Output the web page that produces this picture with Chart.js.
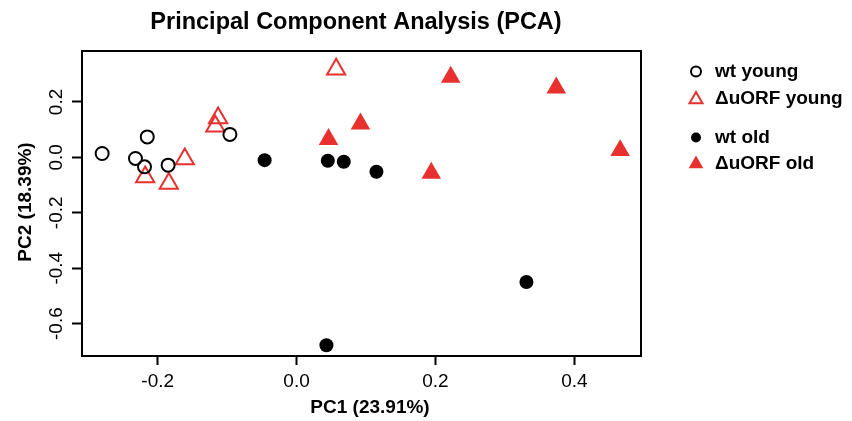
<!DOCTYPE html>
<html lang="en">
<head>
    <meta charset="UTF-8">
    <title>Principal Component Analysis (PCA)</title>
    <script src="https://cdn.jsdelivr.net/npm/chart.js"></script>
    <style>
        body {
            margin: 0;
            background-color: #ffffff;
        }
        #wrap {
            width: 852px;
            height: 421px;
        }
    </style>
</head>
<body>
    <div id="wrap">
        <canvas id="pcaChart" width="852" height="421"></canvas>
    </div>

    <script>
        // values
        const wtYoungX = [-0.280, -0.232, -0.215, -0.219, -0.185, -0.096];
        const wtYoungY = [0.014, -0.004, 0.074, -0.034, -0.028, 0.083];

        const uorfYoungX = [0.057, -0.113, -0.117, -0.161, -0.218, -0.184];
        const uorfYoungY = [0.318, 0.142, 0.112, -0.006, -0.071, -0.094];

        const wtOldX = [-0.046, 0.045, 0.068, 0.115, 0.331, 0.043];
        const wtOldY = [-0.010, -0.012, -0.016, -0.052, -0.450, -0.678];

        const uorfOldX = [0.222, 0.374, 0.092, 0.046, 0.194, 0.466];
        const uorfOldY = [0.290, 0.251, 0.121, 0.065, -0.057, 0.025];

        const xTicks = [-0.2, 0.0, 0.2, 0.4];
        const yTicks = [-0.6, -0.4, -0.2, 0.0, 0.2];
        const xRange = [-0.309, 0.496];
        const yRange = [-0.717, 0.384];

        const chartTitle = 'Principal Component Analysis (PCA)';
        const xTitle = 'PC1 (23.91%)';
        const yTitle = 'PC2 (18.39%)';
        const groupLabels = ['wt young', '\u0394uORF young', 'wt old', '\u0394uORF old'];

        const RED = '#e8302e';
        const FONT = '"Liberation Sans", Arial, Helvetica, sans-serif';

        function toPoints(xs, ys) {
            return xs.map((x, i) => ({ x: x, y: ys[i] }));
        }

        // legend marker glyphs, same shapes as the points
        function drawMarker(ctx, style, filled, color, r, x, y) {
            ctx.save();
            ctx.beginPath();
            if (style === 'circle') {
                ctx.arc(x, y, r, 0, Math.PI * 2);
            } else {
                ctx.moveTo(x, y - r);
                ctx.lineTo(x + r * Math.sin(Math.PI * 2 / 3), y + r / 2);
                ctx.lineTo(x - r * Math.sin(Math.PI * 2 / 3), y + r / 2);
                ctx.closePath();
            }
            if (filled) {
                ctx.fillStyle = color;
                ctx.fill();
            } else {
                ctx.strokeStyle = color;
                ctx.lineWidth = 2;
                ctx.stroke();
            }
            ctx.restore();
        }

        const decorations = {
            id: 'decorations',
            beforeDraw(chart) {
                const ctx = chart.ctx;
                ctx.save();
                ctx.fillStyle = '#ffffff';
                ctx.fillRect(0, 0, chart.width, chart.height);
                ctx.restore();
            },
            afterDraw(chart) {
                const ctx = chart.ctx;
                const area = chart.chartArea;
                const xs = chart.scales.x;
                const ys = chart.scales.y;

                ctx.save();
                // box round the plot
                ctx.strokeStyle = '#000000';
                ctx.lineWidth = 2;
                ctx.strokeRect(area.left, area.top, area.right - area.left, area.bottom - area.top);

                ctx.fillStyle = '#000000';

                // x tick labels
                ctx.font = '19px ' + FONT;
                ctx.textAlign = 'center';
                ctx.textBaseline = 'alphabetic';
                xTicks.forEach(v => {
                    ctx.fillText(v.toFixed(1), xs.getPixelForValue(v), 387);
                });

                // y tick labels, rotated like R does
                yTicks.forEach(v => {
                    ctx.save();
                    ctx.translate(62, ys.getPixelForValue(v));
                    ctx.rotate(-Math.PI / 2);
                    ctx.fillText(v.toFixed(1), 0, 0);
                    ctx.restore();
                });

                // titles
                ctx.font = 'bold 23.5px ' + FONT;
                ctx.fillText(chartTitle, 356, 29);

                ctx.font = 'bold 19px ' + FONT;
                ctx.fillText(xTitle, 370, 413);

                ctx.save();
                ctx.translate(31, 202);
                ctx.rotate(-Math.PI / 2);
                ctx.fillText(yTitle, 0, 0);
                ctx.restore();

                // legend
                const rows = [
                    { y: 71.5, base: 77, style: 'circle', filled: false, color: '#000000', r: 5 },
                    { y: 99.5, base: 103.5, style: 'triangle', filled: false, color: RED, r: 7.5 },
                    { y: 137.5, base: 143, style: 'circle', filled: true, color: '#000000', r: 5 },
                    { y: 164, base: 169, style: 'triangle', filled: true, color: RED, r: 8.5 }
                ];
                ctx.font = 'bold 19px ' + FONT;
                ctx.textAlign = 'left';
                rows.forEach((row, i) => {
                    drawMarker(ctx, row.style, row.filled, row.color, row.r, 696, row.y);
                    ctx.fillStyle = '#000000';
                    ctx.fillText(groupLabels[i], 715, row.base);
                });
                ctx.restore();
            }
        };

        const ctx = document.getElementById('pcaChart').getContext('2d');
        const pcaChart = new Chart(ctx, {
            type: 'scatter',
            data: {
                datasets: [
                    {
                        label: groupLabels[0],
                        data: toPoints(wtYoungX, wtYoungY),
                        pointStyle: 'circle',
                        pointRadius: 6.5,
                        borderWidth: 2,
                        borderColor: '#000000',
                        backgroundColor: 'rgba(0,0,0,0)'
                    },
                    {
                        label: groupLabels[1],
                        data: toPoints(uorfYoungX, uorfYoungY),
                        pointStyle: 'triangle',
                        pointRadius: 10.5,
                        borderWidth: 2,
                        borderColor: RED,
                        backgroundColor: 'rgba(0,0,0,0)'
                    },
                    {
                        label: groupLabels[2],
                        data: toPoints(wtOldX, wtOldY),
                        pointStyle: 'circle',
                        pointRadius: 7,
                        borderWidth: 0,
                        borderColor: '#000000',
                        backgroundColor: '#000000'
                    },
                    {
                        label: groupLabels[3],
                        data: toPoints(uorfOldX, uorfOldY),
                        pointStyle: 'triangle',
                        pointRadius: 11.3,
                        borderWidth: 0,
                        borderColor: RED,
                        backgroundColor: RED
                    }
                ]
            },
            options: {
                responsive: false,
                animation: false,
                clip: false,
                layout: {
                    padding: { left: 0, right: 211, top: 51, bottom: 0 }
                },
                plugins: {
                    legend: { display: false },
                    title: { display: false },
                    tooltip: { enabled: false }
                },
                scales: {
                    x: {
                        type: 'linear',
                        min: xRange[0],
                        max: xRange[1],
                        afterBuildTicks: scale => {
                            scale.ticks = xTicks.map(v => ({ value: v }));
                        },
                        afterFit: scale => {
                            scale.height = 65;
                        },
                        ticks: { display: false },
                        border: { display: false },
                        grid: {
                            drawOnChartArea: false,
                            drawTicks: true,
                            tickLength: 9,
                            tickWidth: 2,
                            tickColor: '#000000'
                        }
                    },
                    y: {
                        type: 'linear',
                        min: yRange[0],
                        max: yRange[1],
                        afterBuildTicks: scale => {
                            scale.ticks = yTicks.map(v => ({ value: v }));
                        },
                        afterFit: scale => {
                            scale.width = 82;
                        },
                        ticks: { display: false },
                        border: { display: false },
                        grid: {
                            drawOnChartArea: false,
                            drawTicks: true,
                            tickLength: 10,
                            tickWidth: 2,
                            tickColor: '#000000'
                        }
                    }
                }
            },
            plugins: [decorations]
        });
    </script>
</body>
</html>
